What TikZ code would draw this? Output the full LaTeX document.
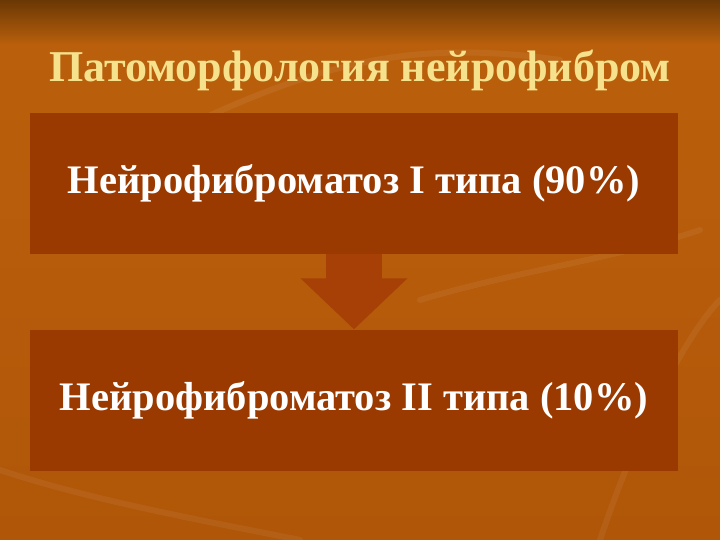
\documentclass[tikz,border=0pt]{standalone}
\usepackage{fontspec}
\setmainfont{Liberation Serif}
\usetikzlibrary{arrows.meta}

\definecolor{bgtop}{RGB}{106,56,4}
\definecolor{bgmid}{RGB}{186,96,12}
\definecolor{bglow}{RGB}{176,86,8}
\definecolor{boxfill}{RGB}{154,58,0}
\definecolor{arrowfill}{RGB}{166,64,6}
\definecolor{titlecol}{RGB}{246,226,140}

\tikzset{
  typebox/.style={fill=boxfill, minimum width=648pt, minimum height=141pt,
    inner sep=0pt, text=white, font=\fontsize{40.5}{46}\selectfont\bfseries},
  leaf/.style={line width=6pt, draw=white, opacity=0.06, line cap=round}
}

\begin{document}
\begin{tikzpicture}[x=1pt, y=-1pt]

\useasboundingbox (0,0) rectangle (720,540);
\shade[top color=bgtop, bottom color=bgmid] (0,0) rectangle (720,45);
\shade[top color=bgmid, bottom color=bglow] (0,45) rectangle (720,540);

% background leaves
\draw[leaf] (200,120) .. controls (330,60) and (420,40) .. (560,60);
\draw[leaf] (600,540) .. controls (640,420) and (690,330) .. (720,300);
\draw[leaf] (0,470) .. controls (90,500) and (200,520) .. (300,540);
\draw[leaf] (420,300) .. controls (520,270) and (610,260) .. (700,230);

\node[text=titlecol, font=\fontsize{44}{50}\selectfont\bfseries] (title) at (360,70) {Патоморфология нейрофибром};

\node[typebox] (nf1) at (354,183.5) {Нейрофиброматоз I типа (90\%)};
\node[typebox] (nf2) at (354,400) {Нейрофиброматоз II типа (10\%)};

\draw[draw=arrowfill, line width=56pt, -{Triangle[width=104pt,length=51pt]}, fill=arrowfill] (nf1.south) -- (nf2.north);

\end{tikzpicture}
\end{document}
